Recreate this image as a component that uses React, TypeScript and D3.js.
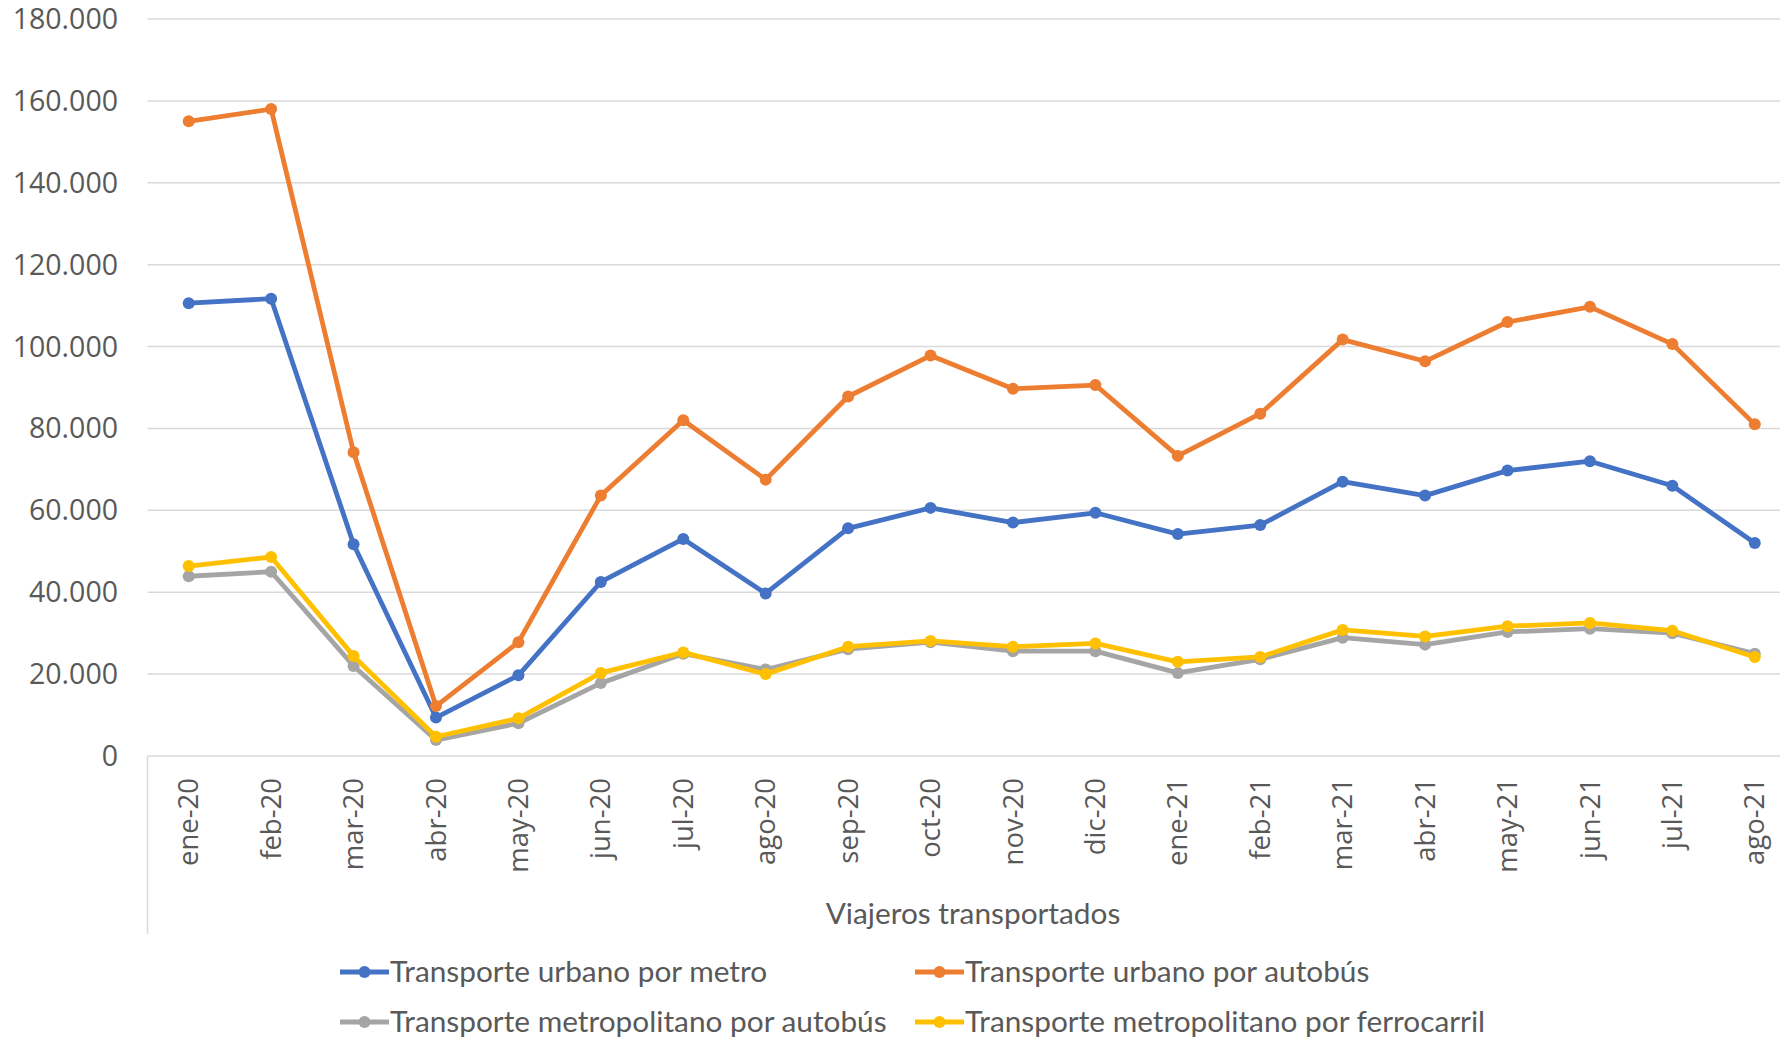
import React, { useEffect, useRef } from 'react';
import * as d3 from 'd3';

const months = [
    'ene-20', 'feb-20', 'mar-20', 'abr-20', 'may-20', 'jun-20', 'jul-20', 'ago-20', 'sep-20', 'oct-20',
    'nov-20', 'dic-20', 'ene-21', 'feb-21', 'mar-21', 'abr-21', 'may-21', 'jun-21', 'jul-21', 'ago-21',
];

const metroUrbano = [110600, 111700, 51700, 9400, 19700, 42500, 53000, 39700, 55600, 60600,
    57000, 59400, 54200, 56400, 67000, 63600, 69700, 72000, 66000, 52000];
const autobusUrbano = [155000, 158000, 74200, 12200, 27800, 63600, 82000, 67500, 87800, 97800,
    89700, 90600, 73300, 83600, 101700, 96400, 106000, 109700, 100600, 81000];
const autobusMetropolitano = [43900, 45000, 22000, 3900, 8000, 17800, 25000, 21100, 26100, 27800,
    25600, 25600, 20300, 23600, 28900, 27200, 30300, 31100, 30000, 25000];
const ferrocarrilMetropolitano = [46400, 48600, 24400, 4700, 9200, 20300, 25300, 20000, 26700, 28100,
    26700, 27500, 23000, 24200, 30800, 29200, 31700, 32500, 30600, 24200];

const yTicks = [0, 20000, 40000, 60000, 80000, 100000, 120000, 140000, 160000, 180000];

const seriesNames = [
    'Transporte urbano por metro',
    'Transporte urbano por autobús',
    'Transporte metropolitano por autobús',
    'Transporte metropolitano por ferrocarril',
];
const seriesColors = ['#4472C4', '#ED7D31', '#A5A5A5', '#FFC000'];

const axisTitle = 'Viajeros transportados';

const App = () => {
    const svgRef = useRef(null);

    useEffect(() => {
        const svg = d3.select(svgRef.current);
        svg.selectAll('*').remove();

        const width = 1780;
        const height = 1039;
        const plot = { left: 147.5, right: 1796, top: 19, bottom: 756 };

        svg.attr('width', width).attr('height', height);

        const x = d3.scalePoint()
            .domain(months)
            .range([plot.left, plot.right])
            .padding(0.5);

        const y = d3.scaleLinear()
            .domain([0, 180000])
            .range([plot.bottom, plot.top]);

        const es = d3.formatLocale({ decimal: ',', thousands: '.', grouping: [3], currency: ['', '€'] });
        const fmt = es.format(',');

        // grid lines
        svg.append('g')
            .selectAll('line')
            .data(yTicks)
            .enter().append('line')
            .attr('x1', plot.left)
            .attr('x2', width)
            .attr('y1', d => y(d))
            .attr('y2', d => y(d))
            .attr('stroke', '#d9d9d9')
            .attr('stroke-width', 1.5);

        // left line under the category axis
        svg.append('line')
            .attr('x1', plot.left)
            .attr('x2', plot.left)
            .attr('y1', plot.bottom)
            .attr('y2', 934)
            .attr('stroke', '#d9d9d9')
            .attr('stroke-width', 1.5);

        // y labels
        svg.append('g')
            .attr('font-family', '"Open Sans", sans-serif')
            .attr('font-size', 28.5)
            .attr('fill', '#595959')
            .attr('text-anchor', 'end')
            .selectAll('text')
            .data(yTicks)
            .enter().append('text')
            .attr('x', 118)
            .attr('y', d => y(d))
            .attr('dy', '0.35em')
            .text(d => fmt(d));

        // x labels
        svg.append('g')
            .attr('font-family', '"Open Sans", sans-serif')
            .attr('font-size', 27.5)
            .attr('fill', '#595959')
            .attr('text-anchor', 'end')
            .selectAll('text')
            .data(months)
            .enter().append('text')
            .attr('transform', d => `translate(${x(d)},${plot.bottom + 22}) rotate(-90)`)
            .attr('dy', '0.35em')
            .text(d => d);

        // axis title
        svg.append('text')
            .attr('x', 973)
            .attr('y', 914)
            .attr('dy', '0.35em')
            .attr('text-anchor', 'middle')
            .attr('font-family', 'Lato, sans-serif')
            .attr('font-size', 29.8)
            .attr('fill', '#595959')
            .text(axisTitle);

        // lines
        const allSeries = [metroUrbano, autobusUrbano, autobusMetropolitano, ferrocarrilMetropolitano];
        const line = d3.line()
            .x((d, i) => x(months[i]))
            .y(d => y(d));

        allSeries.forEach((values, s) => {
            const g = svg.append('g');
            g.append('path')
                .datum(values)
                .attr('fill', 'none')
                .attr('stroke', seriesColors[s])
                .attr('stroke-width', 4.8)
                .attr('stroke-linejoin', 'round')
                .attr('d', line);
            g.selectAll('circle')
                .data(values)
                .enter().append('circle')
                .attr('cx', (d, i) => x(months[i]))
                .attr('cy', d => y(d))
                .attr('r', 6)
                .attr('fill', seriesColors[s]);
        });

        // legend
        const legendPos = [[340, 972], [915, 972], [340, 1022], [915, 1022]];
        const legend = svg.append('g')
            .attr('font-family', 'Lato, sans-serif')
            .attr('font-size', 29.8)
            .selectAll('g')
            .data(seriesNames)
            .enter().append('g')
            .attr('transform', (d, i) => `translate(${legendPos[i][0]},${legendPos[i][1]})`);

        legend.append('line')
            .attr('x1', 0)
            .attr('x2', 49)
            .attr('stroke', (d, i) => seriesColors[i])
            .attr('stroke-width', 4.8);

        legend.append('circle')
            .attr('cx', 24.5)
            .attr('r', 6)
            .attr('fill', (d, i) => seriesColors[i]);

        legend.append('text')
            .attr('x', 50)
            .attr('dy', '0.35em')
            .attr('fill', '#595959')
            .text(d => d);
    }, []);

    return (
        <div style={{ position: 'absolute', left: 0, top: 0 }}>
            <svg ref={svgRef}></svg>
        </div>
    );
};

export default App;
